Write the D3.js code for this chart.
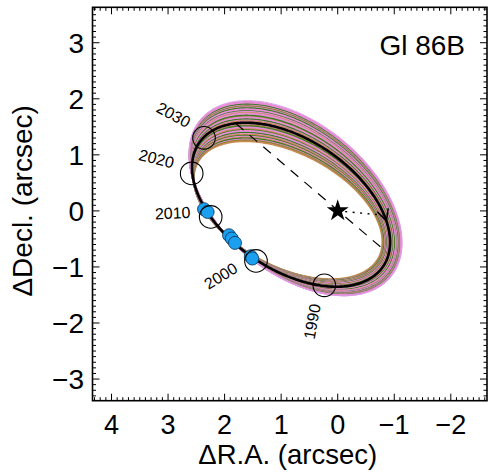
<!DOCTYPE html>
<html>
<head>
<meta charset="utf-8">
<script src="https://cdn.jsdelivr.net/npm/d3@7"></script>
<style>
  html, body { margin: 0; padding: 0; background: #fff; }
  svg { display: block; }
  text { font-family: "Liberation Sans", Arial, Helvetica, sans-serif; fill: #000; }
</style>
</head>
<body>
<svg id="chart" width="490" height="474"></svg>
<script>
// ---------- data ----------
const xAxisRange = [4.336, -2.64];          // ΔR.A. (arcsec), east to the left
const yAxisRange = [3.632, -3.386];         // ΔDecl. (arcsec)
const xTickValues = [4, 3, 2, 1, 0, -1, -2];
const yTickValues = [3, 2, 1, 0, -1, -2, -3];
const xTickLabels = ["4", "3", "2", "1", "0", "\u22121", "\u22122"];
const yTickLabels = ["3", "2", "1", "0", "\u22121", "\u22122", "\u22123"];

// best-fit apparent orbit: centre, semi-axes, orientation (deg)
const orbitCentre = [0.825, 0.11];
const orbitAxes = [1.965, 1.16];
const orbitAngle = 34.2;

// family of fitted orbits: stretch about the data region
const bundleAnchor = [1.9, -0.5];
const bundleKy = [-0.160,-0.151,-0.145,-0.136,-0.129,-0.119,-0.113,-0.104,-0.097,-0.087,-0.081,-0.071,
                  -0.065,-0.055,-0.049,-0.040,-0.031,-0.025,-0.016,-0.007,0.004,0.013,0.019,0.029,
                  0.035,0.045,0.051,0.061,0.067,0.077,0.083,0.093,0.099,0.109,0.115,0.125,
                  0.131,0.141,0.147,0.157,0.163,0.172,0.180,0.190];
const bundleKx = [-0.049,-0.043,-0.042,-0.037,-0.036,-0.031,-0.029,-0.026,-0.024,-0.020,-0.019,-0.015,
                  -0.013,-0.009,-0.008,-0.004,-0.002,0.000,0.003,0.007,0.010,0.014,0.015,0.020,
                  0.021,0.026,0.026,0.031,0.032,0.037,0.037,0.042,0.043,0.047,0.048,0.053,
                  0.054,0.058,0.060,0.063,0.065,0.068,0.071,0.075];
const bundleColour = ["b","b","o","p","g","b","p","g","b","p","g","p",
                      "p","g","b","p","p","g","o","p","g","p","b","p",
                      "g","p","p","o","g","p","p","b","p","g","p","p",
                      "g","p","o","p","g","p","p","v"];

// predicted positions at epochs
const epochYears = ["1990", "2000", "2010", "2020", "2030"];
const epochX = [0.237, 1.445, 2.246, 2.582, 2.364];
const epochY = [-1.327, -0.893, -0.107, 0.668, 1.304];

// astrometric measurements
const obsX = [2.364, 2.300, 1.922, 1.874, 1.816, 1.538, 1.510];
const obsY = [0.030, -0.020, -0.434, -0.493, -0.571, -0.809, -0.850];

// line of nodes, periastron, direction-of-motion arrow
const nodeX = [1.80, -0.87];
const nodeY = [1.56, -0.74];
const periastron = [-0.85, -0.08];
const arrowAt = [-0.863, -0.175];

const starName = "Gl 86B";
const xTitle = "\u0394R.A. (arcsec)";
const yTitle = "\u0394Decl. (arcsec)";

// ---------- layout ----------
const frame = { left: 92.5, right: 487, top: 7.3, bottom: 400.7 };
const palette = { b: "#c78a52", o: "#8c8436", g: "#3a7a26", p: "#e88cd6", v: "#d9a0ea" };
const font = 28;

const svg = d3.select("#chart");
svg.append("rect").attr("width", 490).attr("height", 474).attr("fill", "#fff");

const x = d3.scaleLinear().domain(xAxisRange).range([frame.left, frame.right]);
const y = d3.scaleLinear().domain(yAxisRange).range([frame.top, frame.bottom]);

const phi = orbitAngle * Math.PI / 180;
const U = [Math.cos(phi), Math.sin(phi)], V = [-Math.sin(phi), Math.cos(phi)];
function ellipsePoint(t) {
  const [a, b] = orbitAxes;
  return [orbitCentre[0] + a * Math.cos(t) * U[0] + b * Math.sin(t) * V[0],
          orbitCentre[1] + a * Math.cos(t) * U[1] + b * Math.sin(t) * V[1]];
}
const ts = d3.range(0, 2 * Math.PI, Math.PI / 240);
const basePts = ts.map(ellipsePoint);

const line = d3.line().x(d => x(d[0])).y(d => y(d[1])).curve(d3.curveLinearClosed);
const plot = svg.append("g");

const clip = svg.append("clipPath").attr("id", "clip").append("rect")
  .attr("x", frame.left).attr("y", frame.top)
  .attr("width", frame.right - frame.left).attr("height", frame.bottom - frame.top);
plot.attr("clip-path", "url(#clip)");

// orbit bundle
bundleKy.forEach((ky, i) => {
  const kx = bundleKx[i];
  const pts = basePts.map(p => [bundleAnchor[0] + (1 + kx) * (p[0] - bundleAnchor[0]),
                                bundleAnchor[1] + (1 + ky) * (p[1] - bundleAnchor[1])]);
  plot.append("path").attr("d", line(pts)).attr("fill", "none")
    .attr("stroke", palette[bundleColour[i]])
    .attr("stroke-width", bundleColour[i] === "v" ? 1.0 : 1.7);
});

// best orbit
plot.append("path").attr("d", line(basePts)).attr("fill", "none")
  .attr("stroke", "#000").attr("stroke-width", 2.6);

// line of nodes (dashed)
plot.append("line")
  .attr("x1", x(nodeX[0])).attr("y1", y(nodeY[0]))
  .attr("x2", x(nodeX[1])).attr("y2", y(nodeY[1]))
  .attr("stroke", "#000").attr("stroke-width", 1.2).attr("stroke-dasharray", "10,8");

// periastron (dotted)
plot.append("line")
  .attr("x1", x(0)).attr("y1", y(0))
  .attr("x2", x(periastron[0])).attr("y2", y(periastron[1]))
  .attr("stroke", "#000").attr("stroke-width", 1.4).attr("stroke-dasharray", "2,5.5");

// direction arrow: tangent at nearest orbit point
(function () {
  let best = 0, bd = Infinity;
  ts.forEach(t => {
    const p = ellipsePoint(t);
    const d = (x(p[0]) - x(arrowAt[0])) ** 2 + (y(p[1]) - y(arrowAt[1])) ** 2;
    if (d < bd) { bd = d; best = t; }
  });
  const p0 = ellipsePoint(best), p1 = ellipsePoint(best + 0.01);
  const tip = [x(p0[0]), y(p0[1])];
  let dx = x(p1[0]) - tip[0], dy = y(p1[1]) - tip[1];
  const n = Math.hypot(dx, dy); dx /= n; dy /= n;
  const L = 13, h = 26 * Math.PI / 180;
  const arm = s => [tip[0] - L * (dx * Math.cos(h) - s * dy * Math.sin(h)),
                    tip[1] - L * (dy * Math.cos(h) + s * dx * Math.sin(h))];
  const a1 = arm(1), a2 = arm(-1);
  plot.append("path").attr("d", `M${a1[0]},${a1[1]}L${tip[0]},${tip[1]}L${a2[0]},${a2[1]}`)
    .attr("fill", "none").attr("stroke", "#000").attr("stroke-width", 1.5);
})();

// observations
obsX.forEach((ox, i) => {
  plot.append("circle").attr("cx", x(ox)).attr("cy", y(obsY[i])).attr("r", 6.5)
    .attr("fill", "#1ba0ef").attr("stroke", "#0a3050").attr("stroke-width", 0.8);
});

// epoch markers + labels
epochYears.forEach((yr, i) => {
  const px = x(epochX[i]), py = y(epochY[i]);
  plot.append("circle").attr("cx", px).attr("cy", py).attr("r", 11.3)
    .attr("fill", "none").attr("stroke", "#000").attr("stroke-width", 1.1);
  let dx = px - x(0), dy = py - y(0);
  const n = Math.hypot(dx, dy); dx /= n; dy /= n;
  const lx = px + 20 * dx, ly = py + 20 * dy;
  const ang = Math.atan2(dy, dx) * 180 / Math.PI + 180;
  plot.append("text").attr("x", 0).attr("y", 0)
    .attr("transform", `translate(${lx},${ly}) rotate(${ang})`)
    .attr("text-anchor", "end").attr("font-size", 16).text(yr);
});

// star at origin
const star = d3.symbol().type(d3.symbolStar).size(150);
plot.append("path").attr("d", star()).attr("transform", `translate(${x(0)},${y(0)})`)
  .attr("fill", "#000");

// ---------- axes frame and ticks ----------
const ax = svg.append("g").attr("stroke", "#000");
const isMajor = (v, list) => list.some(m => Math.abs(m - v) < 1e-6);
const minorX = d3.range(-26, 44).map(v => v / 10).filter(v => v <= xAxisRange[0] && v >= xAxisRange[1]);
const minorY = d3.range(-33, 37).map(v => v / 10).filter(v => v <= yAxisRange[0] && v >= yAxisRange[1]);
const majL = 7, minL = 3.5;
minorX.forEach(v => {
  const L = isMajor(v, xTickValues) ? majL : minL;
  ax.append("line").attr("x1", x(v)).attr("x2", x(v)).attr("y1", frame.bottom).attr("y2", frame.bottom - L).attr("stroke-width", 1);
  ax.append("line").attr("x1", x(v)).attr("x2", x(v)).attr("y1", frame.top).attr("y2", frame.top + L).attr("stroke-width", 1);
});
minorY.forEach(v => {
  const L = isMajor(v, yTickValues) ? majL : minL;
  ax.append("line").attr("y1", y(v)).attr("y2", y(v)).attr("x1", frame.left).attr("x2", frame.left + L).attr("stroke-width", 1);
  ax.append("line").attr("y1", y(v)).attr("y2", y(v)).attr("x1", frame.right).attr("x2", frame.right - L).attr("stroke-width", 1);
});
ax.append("rect").attr("x", frame.left).attr("y", frame.top)
  .attr("width", frame.right - frame.left).attr("height", frame.bottom - frame.top)
  .attr("fill", "none").attr("stroke-width", 1.6);

// tick labels
xTickValues.forEach((v, i) => {
  svg.append("text").attr("x", x(v)).attr("y", 433.5).attr("text-anchor", "middle")
    .attr("font-size", 27).text(xTickLabels[i]);
});
yTickValues.forEach((v, i) => {
  svg.append("text").attr("x", 84).attr("y", y(v) + 10).attr("text-anchor", "end")
    .attr("font-size", font).text(yTickLabels[i]);
});

// titles
svg.append("text").attr("x", (frame.left + frame.right) / 2 - 2).attr("y", 464)
  .attr("text-anchor", "middle").attr("font-size", 27.5).text(xTitle);
svg.append("text").attr("transform", `translate(32,${y(0) - 10}) rotate(-90)`)
  .attr("text-anchor", "middle").attr("font-size", font).text(yTitle);
svg.append("text").attr("x", 465).attr("y", 55).attr("text-anchor", "end")
  .attr("font-size", font).text(starName);
</script>
</body>
</html>
